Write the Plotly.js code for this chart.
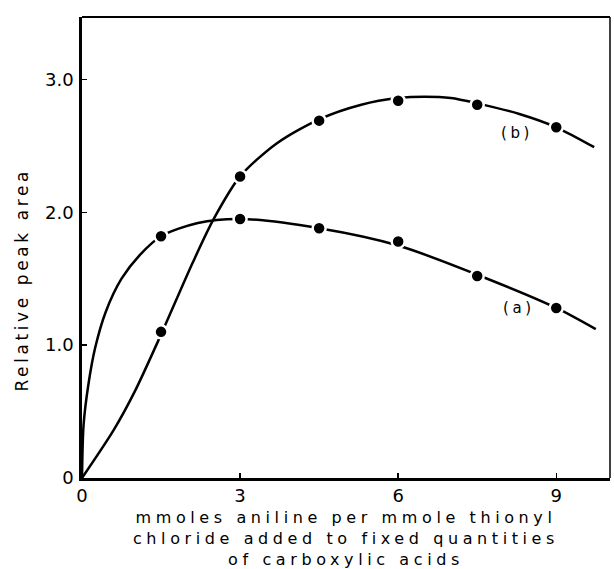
<!DOCTYPE html>
<html>
<head>
<meta charset="utf-8">
<script src="https://cdn.plot.ly/plotly-3.0.1.min.js"></script>
<style>
  body { margin: 0; background: #fff; }
  #chart { width: 614px; height: 569px; }
  .xtitle { letter-spacing: 4.6px; }
  .annotation-text { letter-spacing: 3.6px; }
</style>
</head>
<body>
<div id="chart"></div>
<script>
// Measured points (filled circles)
const xPoints = [1.5, 3, 4.5, 6, 7.5, 9];
const aPoints = [1.82, 1.95, 1.88, 1.78, 1.52, 1.28];
const bPoints = [1.10, 2.27, 2.69, 2.84, 2.81, 2.64];

// Hand-drawn smooth curves
const aCurveX = [0, 0.03, 0.12, 0.25, 0.45, 0.75, 1.1, 1.5, 2.2, 3, 4.5, 6, 7.5, 9, 9.75];
const aCurveY = [0, 0.40, 0.70, 0.98, 1.25, 1.50, 1.68, 1.82, 1.92, 1.95, 1.88, 1.75, 1.53, 1.28, 1.12];
const bCurveX = [0, 0.6, 1.0, 1.5, 2.1, 2.5, 3, 3.7, 4.5, 5.3, 6, 6.5, 7, 7.5, 8.3, 9, 9.72];
const bCurveY = [0, 0.36, 0.65, 1.08, 1.62, 1.95, 2.27, 2.52, 2.70, 2.81, 2.86, 2.87, 2.86, 2.82, 2.74, 2.64, 2.49];

const xTickVals = [0, 3, 6, 9];
const xTickText = ['0', '3', '6', '9'];
const yTickVals = [0, 1, 2, 3];
const yTickText = ['0', '1.0', '2.0', '3.0'];

const curveLine = {color: '#000', width: 2.5, shape: 'spline', smoothing: 0.8};
const dotMarker = {color: '#000', size: 13, line: {color: '#fff', width: 2.5}};

const traces = [
  {x: aCurveX, y: aCurveY, mode: 'lines', line: curveLine, name: '(a)', hoverinfo: 'skip'},
  {x: bCurveX, y: bCurveY, mode: 'lines', line: curveLine, name: '(b)', hoverinfo: 'skip'},
  {x: xPoints, y: aPoints, mode: 'markers', marker: dotMarker, name: '(a) points'},
  {x: xPoints, y: bPoints, mode: 'markers', marker: dotMarker, name: '(b) points'}
];

const font = 'DejaVu Sans, sans-serif';

const layout = {
  width: 614, height: 569,
  margin: {l: 82, r: 4, t: 17, b: 91},
  paper_bgcolor: '#fff', plot_bgcolor: '#fff',
  showlegend: false,
  font: {family: font, color: '#000'},
  xaxis: {
    range: [0, 10.02],
    tickvals: xTickVals, ticktext: xTickText,
    ticks: 'inside', ticklen: 5, tickwidth: 1.5, tickcolor: '#000',
    showgrid: false, zeroline: false,
    showline: true, linecolor: '#000', linewidth: 2.8,
    tickfont: {size: 18, family: font},
    title: {
      text: 'mmoles aniline per mmole thionyl<br>chloride added to fixed quantities<br>of carboxylic acids',
      font: {size: 16, family: font},
      standoff: 17
    }
  },
  yaxis: {
    range: [0, 3.47],
    tickvals: yTickVals, ticktext: yTickText,
    ticks: 'inside', ticklen: 5, tickwidth: 1.5, tickcolor: '#000',
    showgrid: false, zeroline: false,
    showline: true, linecolor: '#000', linewidth: 2.8,
    tickfont: {size: 18, family: font},
    ticklabelstandoff: 2
  },
  shapes: [
    {type: 'line', xref: 'paper', yref: 'paper', x0: 0, x1: 1, y0: 1, y1: 1, line: {color: '#000', width: 2}},
    {type: 'line', xref: 'paper', yref: 'paper', x0: 1, x1: 1, y0: 0, y1: 1, line: {color: '#000', width: 1.5}}
  ],
  annotations: [
    {x: 8.25, y: 2.60, xref: 'x', yref: 'y', text: '(b)', showarrow: false, font: {size: 15, family: font}},
    {x: 8.3, y: 1.28, xref: 'x', yref: 'y', text: '(a)', showarrow: false, font: {size: 15, family: font}},
    {x: -0.114, y: 0.43, xref: 'paper', yref: 'paper', xanchor: 'center', yanchor: 'middle',
     text: 'Relative peak area', textangle: -90,
     showarrow: false, font: {size: 17, family: font}}
  ]
};

Plotly.newPlot('chart', traces, layout, {displayModeBar: false, staticPlot: true});
</script>
</body>
</html>
